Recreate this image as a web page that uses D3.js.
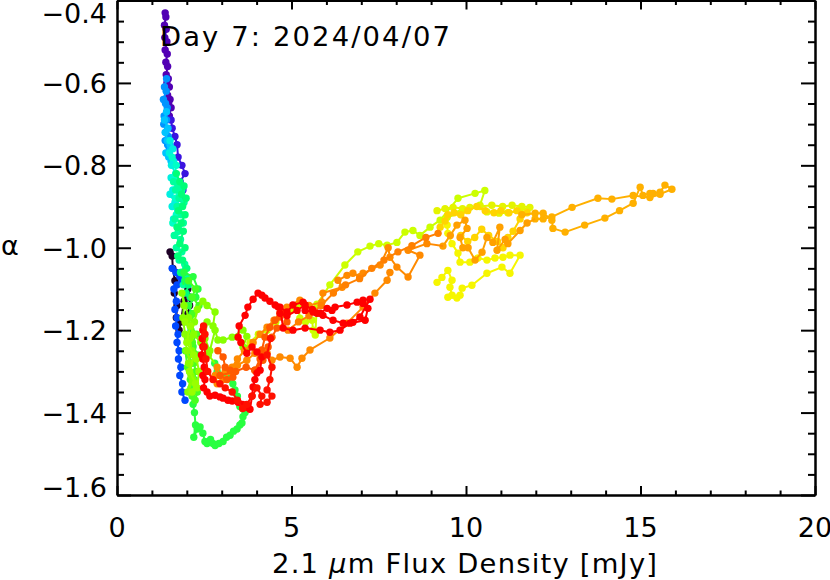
<!DOCTYPE html>
<html><head><meta charset="utf-8">
<script src="https://cdn.jsdelivr.net/npm/d3@7"></script>
<style>html,body{margin:0;padding:0;background:#fff;} svg{display:block;} text{font-family:"DejaVu Sans",sans-serif;fill:#000;}</style>
</head><body><svg id="chart" width="830" height="580"></svg>
<script>
// ---------- data: [flux (mJy), alpha] in time order, one array per colour band ----------
const black = [[1.52,-1.01],[1.58,-1.02],[1.60,-1.05],[1.66,-1.08],[1.64,-1.11],[1.72,-1.14],[1.70,-1.17],[1.78,-1.20],[1.83,-1.18],[1.92,-1.13],[2.03,-1.10],[2.09,-1.12],[2.08,-1.14],[2.03,-1.16]];
const purple = [[1.38,-0.43],[1.40,-0.44],[1.36,-0.46],[1.41,-0.47],[1.37,-0.49],[1.43,-0.50],[1.38,-0.52],[1.44,-0.53],[1.40,-0.55],[1.45,-0.56],[1.41,-0.58],[1.47,-0.59],[1.43,-0.60],[1.50,-0.61],[1.45,-0.63],[1.52,-0.64],[1.48,-0.65],[1.55,-0.66],[1.50,-0.68]];
const violet = [[1.55,-0.69],[1.58,-0.71],[1.66,-0.73],[1.72,-0.75],[1.75,-0.78],[1.86,-0.80],[1.95,-0.82],[1.81,-0.84],[1.89,-0.86],[1.80,-0.88]];
const blue = [[1.58,-1.05],[1.69,-1.06],[1.80,-1.07],[1.86,-1.08],[1.72,-1.09],[1.63,-1.10],[1.70,-1.13],[1.66,-1.15],[1.72,-1.17],[1.68,-1.19],[1.75,-1.21],[1.72,-1.23],[1.78,-1.25],[1.76,-1.27],[1.83,-1.29],[1.80,-1.31],[1.88,-1.33],[1.86,-1.35],[1.95,-1.37]];
const lightBlue = [[1.42,-0.59],[1.36,-0.61],[1.41,-0.62],[1.33,-0.64],[1.39,-0.65],[1.44,-0.66],[1.35,-0.68],[1.42,-0.69],[1.34,-0.70],[1.40,-0.72],[1.47,-0.73],[1.38,-0.74],[1.45,-0.75],[1.50,-0.76]];
const sky = [[1.42,-0.67],[1.36,-0.69],[1.46,-0.71],[1.38,-0.72],[1.44,-0.74],[1.52,-0.75],[1.40,-0.77],[1.48,-0.78],[1.55,-0.79]];
const cyan = [[1.52,-0.74],[1.60,-0.76],[1.50,-0.77],[1.62,-0.79],[1.56,-0.80],[1.68,-0.82],[1.55,-0.83],[1.72,-0.84],[1.60,-0.86],[1.52,-0.87],[1.66,-0.89],[1.58,-0.90],[1.74,-0.91],[1.62,-0.93]];
const cyanDense = [[1.58,-0.78],[1.70,-0.80],[1.64,-0.83],[1.76,-0.86],[1.68,-0.88],[1.80,-0.90],[1.70,-0.92],[1.60,-0.94],[1.75,-0.95],[1.66,-0.97]];
const aqua = [[1.62,-0.84],[1.76,-0.85],[1.68,-0.86],[1.86,-0.86],[1.78,-0.88],[1.92,-0.89],[1.72,-0.90],[1.84,-0.92],[1.66,-0.93],[1.90,-0.94],[1.76,-0.96],[1.64,-0.97],[1.82,-0.98],[1.70,-1.00],[1.86,-1.01],[1.78,-1.03],[1.94,-1.04],[1.84,-1.06],[1.98,-1.07],[1.90,-1.09]];
const aquaDense = [[1.70,-0.82],[1.80,-0.84],[1.92,-0.85],[1.85,-0.87],[1.98,-0.88],[1.88,-0.90],[1.76,-0.91],[1.95,-0.92],[1.84,-0.94],[1.72,-0.95],[1.90,-0.96],[1.80,-0.99],[1.95,-1.00],[1.74,-1.02],[1.88,-1.03],[2.00,-1.05],[1.82,-1.06],[1.94,-1.08],[2.05,-1.09],[1.98,-1.11],[2.10,-1.12]];
const green = [[1.92,-1.06],[2.18,-1.07],[2.32,-1.10],[2.26,-1.12],[2.05,-1.14],[2.15,-1.16],[1.98,-1.18],[2.12,-1.20],[2.02,-1.22],[2.18,-1.24],[2.06,-1.26],[2.14,-1.28],[2.08,-1.30],[2.22,-1.32],[2.12,-1.34],[2.18,-1.38],[2.22,-1.40],[2.25,-1.43],[2.20,-1.46],[2.30,-1.44],[2.38,-1.435],[2.46,-1.45],[2.52,-1.47],[2.58,-1.475],[2.68,-1.465],[2.75,-1.475],[2.81,-1.48],[2.92,-1.475],[3.04,-1.47],[3.14,-1.46],[3.24,-1.455],[3.34,-1.445],[3.44,-1.44],[3.52,-1.43],[3.58,-1.425],[3.61,-1.41],[3.67,-1.40],[3.60,-1.39],[3.52,-1.385],[3.45,-1.36],[3.38,-1.345],[3.32,-1.33],[3.15,-1.315],[3.00,-1.31],[2.87,-1.30],[2.80,-1.28]];
const greenDense = [[2.05,-1.08],[2.25,-1.10],[2.15,-1.12],[2.35,-1.14],[2.20,-1.16],[2.10,-1.19],[2.28,-1.21],[2.16,-1.23],[2.30,-1.26],[2.20,-1.28],[2.26,-1.30],[2.18,-1.33],[2.30,-1.35],[2.24,-1.37],[2.15,-1.36],[2.10,-1.32],[2.02,-1.29],[1.96,-1.25]];
const lime = [[2.62,-1.26],[2.40,-1.23],[2.20,-1.21],[2.05,-1.17],[1.86,-1.11],[1.92,-1.14],[1.89,-1.17],[1.95,-1.21],[2.00,-1.25],[2.09,-1.28],[2.18,-1.32],[2.03,-1.35],[2.12,-1.31],[2.05,-1.28],[2.14,-1.25],[2.09,-1.22],[2.22,-1.18],[2.30,-1.15],[2.46,-1.13],[2.58,-1.14],[2.81,-1.156],[2.75,-1.19],[2.58,-1.18],[2.52,-1.22],[2.66,-1.25],[2.81,-1.20],[2.89,-1.224],[3.04,-1.224],[3.30,-1.217],[3.61,-1.20],[3.72,-1.215],[3.61,-1.241],[3.72,-1.244]];
const limeDense = [[1.95,-1.18],[2.10,-1.19],[2.00,-1.23],[2.20,-1.26],[2.08,-1.30],[2.25,-1.33],[2.15,-1.35],[2.30,-1.34],[2.35,-1.30],[2.28,-1.27]];
const yellowGreen = [[3.81,-1.23],[4.05,-1.21],[4.30,-1.20],[4.55,-1.18],[4.80,-1.16],[5.00,-1.15],[5.19,-1.139],[5.24,-1.171],[5.40,-1.18],[5.59,-1.176],[5.62,-1.20],[5.68,-1.212],[5.73,-1.137],[6.10,-1.09],[6.53,-1.042],[6.90,-1.01],[7.25,-0.996],[7.50,-0.99],[7.74,-0.994],[8.02,-0.987],[8.25,-0.962],[8.48,-0.958],[8.68,-0.97],[8.97,-0.95],[9.26,-0.933],[9.77,-0.88],[10.26,-0.868],[10.54,-0.861],[10.40,-0.897],[9.83,-0.916],[9.46,-0.926]];
const yellow = [[9.46,-0.945],[9.48,-0.965],[9.60,-0.99],[9.77,-1.013],[9.83,-1.035],[10.11,-1.035],[10.34,-1.025],[10.60,-1.03],[10.83,-1.025],[11.06,-1.023],[11.26,-1.018],[11.55,-1.018],[11.26,-1.062],[11.03,-1.047],[10.60,-1.062],[10.17,-1.091],[9.89,-1.098],[9.83,-1.115],[9.74,-1.122],[9.48,-1.12],[9.60,-1.115],[9.54,-1.096],[9.60,-1.079],[9.48,-1.055],[9.31,-1.072],[9.17,-1.084]];
const yellowUpper = [[9.17,-0.91],[9.40,-0.905],[9.63,-0.902],[9.90,-0.905],[10.11,-0.902],[10.40,-0.90],[10.74,-0.897],[11.05,-0.90],[11.32,-0.897],[11.60,-0.90],[11.83,-0.902],[11.55,-0.91],[11.20,-0.915],[10.95,-0.916],[10.60,-0.913]];
const gold = [[9.26,-0.95],[9.40,-0.935],[9.48,-0.92],[9.66,-0.915],[9.85,-0.92],[10.05,-0.91],[10.31,-0.90],[10.55,-0.91],[10.80,-0.915],[11.00,-0.91],[11.23,-0.915],[11.46,-0.91],[11.75,-0.915],[11.55,-0.93],[11.35,-0.96],[11.20,-0.975],[11.06,-1.00],[10.90,-0.985],[10.65,-0.97],[10.45,-0.955],[10.25,-0.975],[10.05,-0.985],[9.85,-0.97]];
const orange = [[11.60,-0.92],[11.98,-0.916],[12.21,-0.916],[12.46,-0.933],[12.49,-0.953],[12.84,-0.962],[13.40,-0.945],[13.98,-0.928],[14.40,-0.91],[14.79,-0.892],[14.99,-0.853],[15.07,-0.873],[15.27,-0.868],[15.36,-0.868],[15.56,-0.865],[15.70,-0.848],[15.90,-0.858],[15.56,-0.87],[15.27,-0.878],[14.79,-0.873],[14.18,-0.882],[13.78,-0.88],[13.04,-0.902],[12.46,-0.925],[12.21,-0.93],[11.98,-0.93]];
const amber = [[11.75,-0.94],[11.55,-0.958],[11.20,-0.99],[11.12,-0.98],[10.89,-1.006],[10.97,-0.95],[10.77,-0.987],[10.60,-0.975],[10.46,-1.011],[10.26,-1.03],[10.06,-1.00],[9.91,-1.00],[9.83,-0.975],[10.03,-0.953],[9.97,-0.933],[9.74,-0.945],[9.55,-0.97],[9.34,-0.996]];
const darkOrange = [[8.88,-0.99],[8.34,-1.006],[8.68,-1.018],[8.34,-1.071],[8.02,-1.047],[7.82,-1.023],[7.77,-1.0],[7.54,-1.042],[7.05,-1.062],[6.96,-1.07],[6.76,-1.062],[6.59,-1.067],[6.33,-1.079],[6.45,-1.096],[5.90,-1.11],[5.87,-1.132],[5.50,-1.14],[5.24,-1.127],[4.87,-1.144],[4.67,-1.159],[4.50,-1.176],[4.30,-1.193],[4.10,-1.21],[3.90,-1.23],[3.65,-1.25],[3.45,-1.27],[3.30,-1.29],[3.10,-1.30],[2.95,-1.31],[2.87,-1.29],[2.81,-1.31],[2.87,-1.33],[3.04,-1.32],[3.25,-1.30],[3.45,-1.285],[3.72,-1.273],[3.95,-1.256],[4.15,-1.253],[4.30,-1.256],[4.44,-1.273],[4.67,-1.265],[4.96,-1.268],[5.16,-1.29],[5.30,-1.268],[5.53,-1.248],[6.10,-1.219],[6.59,-1.183],[7.05,-1.144],[7.39,-1.11],[7.74,-1.079],[7.82,-1.06]];
const darkOrange2 = [[4.90,-1.20],[5.20,-1.18],[5.50,-1.165],[5.85,-1.14],[6.20,-1.11],[6.55,-1.09],[6.95,-1.075],[7.30,-1.05],[7.65,-1.03],[8.05,-1.01],[8.45,-0.995],[8.85,-0.975],[9.20,-0.965]];
const redOrange = [[2.89,-1.25],[3.04,-1.265],[3.10,-1.29],[3.24,-1.297],[3.32,-1.314],[3.15,-1.32],[2.95,-1.31],[3.40,-1.30],[3.70,-1.29],[3.95,-1.297],[4.10,-1.27],[4.15,-1.248],[4.24,-1.217],[4.38,-1.193],[4.53,-1.176],[4.67,-1.168],[4.81,-1.159],[4.87,-1.18],[4.58,-1.195],[4.44,-1.217],[4.33,-1.241],[4.18,-1.273],[3.95,-1.297]];
const red = [[2.46,-1.20],[2.44,-1.22],[2.46,-1.24],[2.42,-1.26],[2.46,-1.27],[2.50,-1.29],[2.46,-1.31],[2.52,-1.32],[2.48,-1.34],[2.58,-1.35],[2.66,-1.36],[2.81,-1.358],[2.95,-1.362],[3.04,-1.365],[3.18,-1.37],[3.30,-1.372],[3.47,-1.375],[3.60,-1.38],[3.72,-1.387],[3.81,-1.392],[3.87,-1.36],[3.90,-1.338],[3.95,-1.32],[4.01,-1.304],[4.10,-1.297],[4.15,-1.265],[4.01,-1.253],[3.87,-1.241],[3.72,-1.256],[3.55,-1.23],[3.47,-1.217],[3.50,-1.19],[3.67,-1.164],[3.75,-1.144],[3.90,-1.125],[4.04,-1.11],[4.15,-1.115],[4.24,-1.122],[4.38,-1.13],[4.53,-1.139],[4.62,-1.144],[4.67,-1.159],[4.87,-1.165],[5.16,-1.152],[5.39,-1.139],[5.60,-1.15],[5.73,-1.159],[5.90,-1.164],[6.19,-1.176],[6.48,-1.183],[6.76,-1.181],[6.96,-1.168],[7.25,-1.125],[7.05,-1.127],[6.88,-1.132],[6.59,-1.139],[6.25,-1.144],[6.16,-1.152],[6.02,-1.147],[5.82,-1.159],[5.62,-1.156],[5.39,-1.152],[5.33,-1.132],[5.04,-1.139],[4.87,-1.156],[4.67,-1.144],[4.76,-1.195],[5.04,-1.20],[5.39,-1.195],[5.82,-1.20],[6.10,-1.205],[6.39,-1.20],[6.68,-1.183],[7.11,-1.176],[7.19,-1.147],[7.05,-1.135]];
const redLate = [[4.40,-1.22],[4.30,-1.26],[4.44,-1.29],[4.38,-1.32],[4.30,-1.345],[4.44,-1.36],[4.30,-1.375],[4.10,-1.38],[4.15,-1.36],[4.01,-1.34],[3.87,-1.36],[3.72,-1.38],[3.60,-1.39],[3.45,-1.37],[3.30,-1.35],[3.10,-1.34],[2.95,-1.33],[2.75,-1.32],[2.60,-1.30],[2.55,-1.27],[2.50,-1.24],[2.52,-1.21],[2.48,-1.19]];

const seriesNames = ["black","purple","violet","blue","lightBlue","sky","cyan","cyanDense","aqua","aquaDense","green","greenDense","lime","limeDense","yellowGreen","yellow","yellowUpper","gold","orange","amber","darkOrange","darkOrange2","redOrange","red","redLate"];
const seriesData  = [black,purple,violet,blue,lightBlue,sky,cyan,cyanDense,aqua,aquaDense,green,greenDense,lime,limeDense,yellowGreen,yellow,yellowUpper,gold,orange,amber,darkOrange,darkOrange2,redOrange,red,redLate];
// true: series continues the track from the last point of the named predecessor
const joinFrom    = [null,null,"purple",null,null,null,null,null,null,null,"aqua",null,"green",null,null,"yellowGreen",null,null,null,"orange","amber",null,null,null,null];
const seriesColors = ["#1e0026","#5200b4","#3a14e0","#0048ff","#0094ff","#00c4ff","#00f0e0","#00ffc8","#00ff9c","#00ff78","#28ff40","#48ff20","#88ff00","#98ff00","#ccff00","#f6f600","#e4f400","#ffd400","#ffb000","#ffa000","#ff8a00","#ff8000","#ff5a00","#ff0000","#ff1000"];

const xTickValues = [0,5,10,15,20];
const xTickLabels = ["0","5","10","15","20"];
const yTickValues = [-1.6,-1.4,-1.2,-1.0,-0.8,-0.6,-0.4];
const yTickLabels = ["\u22121.6","\u22121.4","\u22121.2","\u22121.0","\u22120.8","\u22120.6","\u22120.4"];
const titleText = "Day 7: 2024/04/07";
const xTitle = ["2.1 ", "\u03bc", "m Flux Density [mJy]"];
const yTitle = "\u03b1";

// ---------- layout ----------
const L = 117, R = 815, T = 0.5, B = 495;
const svg = d3.select("#chart");
const x = d3.scaleLinear().domain([0,20]).range([L,R]);
const y = d3.scaleLinear().domain([-1.6,-0.4]).range([B,T]);
const xMinor = d3.range(0,20.001,1).filter(v => v % 5 !== 0);
const yMinor = d3.range(-1.6,-0.399,0.05).map(v => +v.toFixed(2)).filter(v => Math.abs(Math.round(v*5) - v*5) > 1e-6);

// ---------- data marks ----------
const line = d3.line().x(d => x(d[0])).y(d => y(d[1]));
const gData = svg.append("g");
seriesData.forEach((pts, i) => {
  let path = pts;
  if (joinFrom[i]) {
    const src = seriesData[seriesNames.indexOf(joinFrom[i])];
    path = [src[src.length-1]].concat(pts);
  }
  const g = gData.append("g").attr("class", seriesNames[i]);
  g.append("path").attr("d", line(path)).attr("fill","none")
    .attr("stroke", seriesColors[i]).attr("stroke-width", 2).attr("stroke-linejoin","round");
  g.selectAll("circle").data(pts).join("circle")
    .attr("cx", d => x(d[0])).attr("cy", d => y(d[1])).attr("r", 3.7)
    .attr("fill", seriesColors[i]);
});

// ---------- axes ----------
function styleAxis(g){
  g.selectAll("text").remove();
  g.selectAll("path,line").attr("stroke","#000").attr("stroke-width",2);
}
svg.append("g").attr("transform",`translate(0,${B})`)
  .call(d3.axisBottom(x).tickValues(xTickValues).tickFormat("").tickSize(-9).tickSizeOuter(0)).call(styleAxis);
svg.append("g").attr("transform",`translate(0,${B})`)
  .call(d3.axisBottom(x).tickValues(xMinor).tickFormat("").tickSize(-4.5).tickSizeOuter(0)).call(styleAxis);
svg.append("g").attr("transform",`translate(0,${T})`)
  .call(d3.axisTop(x).tickValues(xTickValues).tickFormat("").tickSize(-9).tickSizeOuter(0)).call(styleAxis);
svg.append("g").attr("transform",`translate(0,${T})`)
  .call(d3.axisTop(x).tickValues(xMinor).tickFormat("").tickSize(-4.5).tickSizeOuter(0)).call(styleAxis);
svg.append("g").attr("transform",`translate(${L},0)`)
  .call(d3.axisLeft(y).tickValues(yTickValues).tickFormat("").tickSize(-14).tickSizeOuter(0)).call(styleAxis);
svg.append("g").attr("transform",`translate(${L},0)`)
  .call(d3.axisLeft(y).tickValues(yMinor).tickFormat("").tickSize(-7).tickSizeOuter(0)).call(styleAxis);
svg.append("g").attr("transform",`translate(${R},0)`)
  .call(d3.axisRight(y).tickValues(yTickValues).tickFormat("").tickSize(-14).tickSizeOuter(0)).call(styleAxis);
svg.append("g").attr("transform",`translate(${R},0)`)
  .call(d3.axisRight(y).tickValues(yMinor).tickFormat("").tickSize(-7).tickSizeOuter(0)).call(styleAxis);

// tick labels
svg.append("g").selectAll("text").data(yTickValues).join("text")
  .attr("x", 107).attr("y", d => Math.min(Math.max(y(d), 13), 487) + 10)
  .attr("text-anchor","end").attr("font-size",27)
  .text((d,i) => yTickLabels[i]);
svg.append("g").selectAll("text").data(xTickValues).join("text")
  .attr("x", d => x(d)).attr("y", 537)
  .attr("text-anchor","middle").attr("font-size",27)
  .text((d,i) => xTickLabels[i]);

// titles
svg.append("text").attr("x",160).attr("y",46).attr("font-size",27.4)
  .attr("textLength",290).attr("lengthAdjust","spacing").text(titleText);
const xt = svg.append("text").attr("x",272).attr("y",573).attr("font-size",27.4)
  .attr("textLength",385).attr("lengthAdjust","spacing");
xt.append("tspan").text(xTitle[0]);
xt.append("tspan").attr("font-style","italic").text(xTitle[1]);
xt.append("tspan").text(xTitle[2]);
svg.append("text").attr("x",10).attr("y",245).attr("text-anchor","middle")
  .attr("dominant-baseline","central").attr("font-size",27).text(yTitle);
</script></body></html>
